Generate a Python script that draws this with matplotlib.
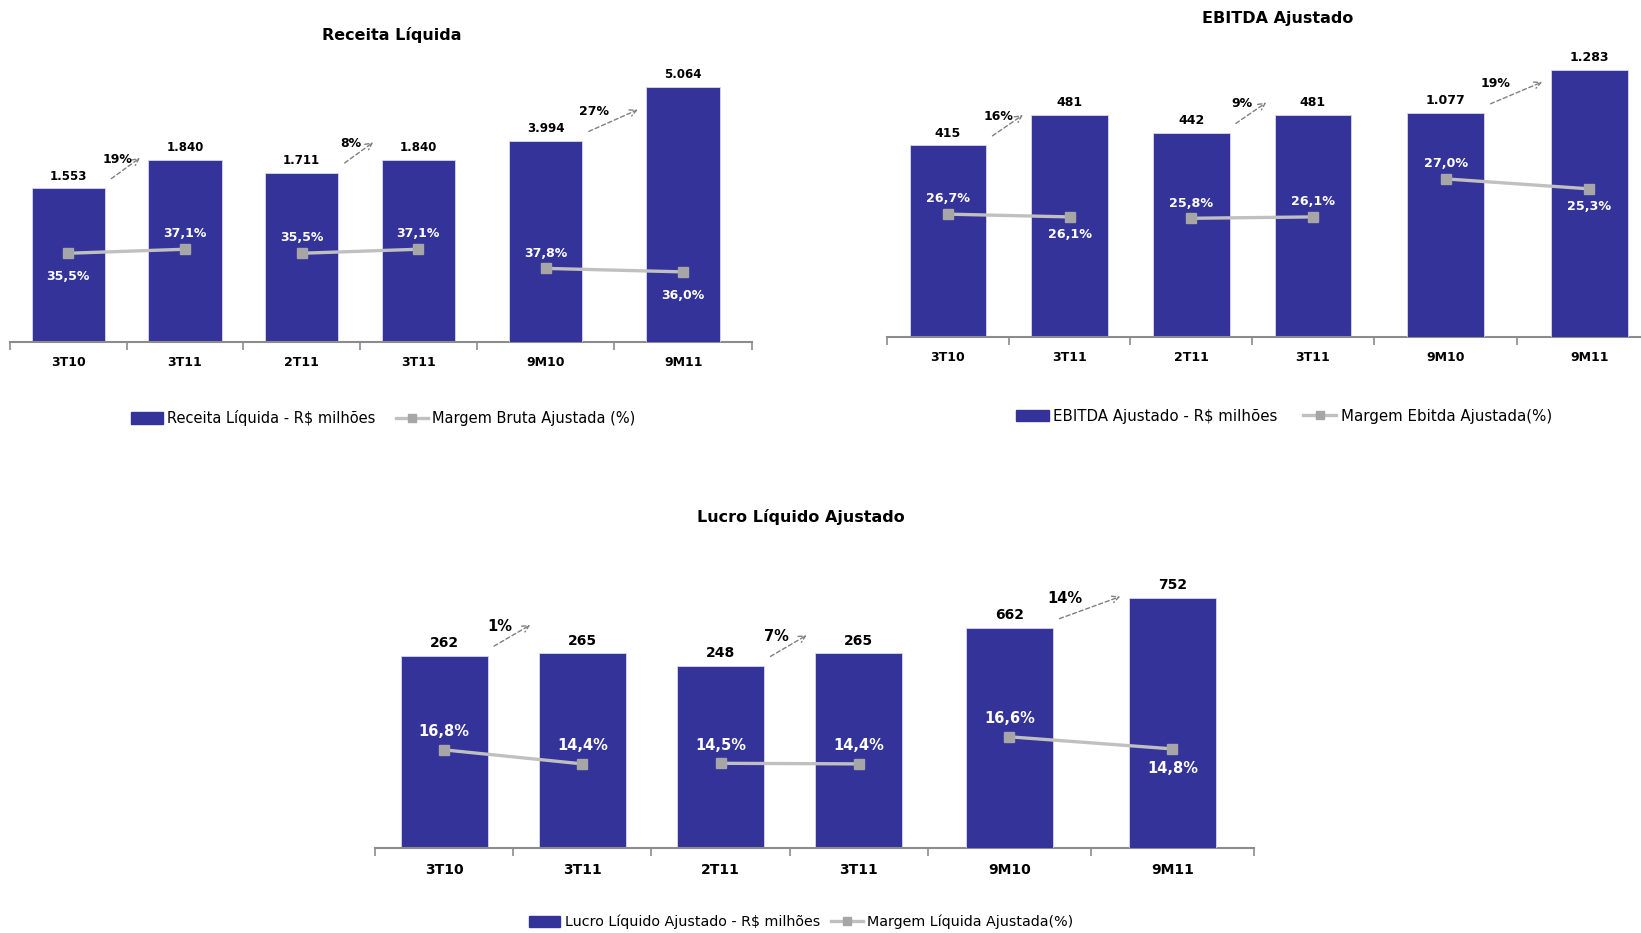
import numpy as np
import matplotlib.pyplot as plt

# categorias e valores
cats = ['3T10', '3T11', '2T11', '3T11', '9M10', '9M11']

receita = [1553, 1840, 1711, 1840, 3994, 5064]
margem_bruta = [35.5, 37.1, 35.5, 37.1, 37.8, 36.0]
cresc_receita = ['19%', '8%', '27%']

ebitda = [415, 481, 442, 481, 1077, 1283]
margem_ebitda = [26.7, 26.1, 25.8, 26.1, 27.0, 25.3]
cresc_ebitda = ['16%', '9%', '19%']

lucro = [262, 265, 248, 265, 662, 752]
margem_liquida = [16.8, 14.4, 14.5, 14.4, 16.6, 14.8]
cresc_lucro = ['1%', '7%', '14%']

W, H = 1641, 933
BLUE = '#333399'
LGREY = '#c0c0c0'
MGREY = '#a6a6a6'

plt.rcParams['font.family'] = ['DejaVu Sans']
fig = plt.figure(figsize=(W / 100, H / 100), dpi=100)


def fmt(v):
    return f'{v:,}'.replace(',', '.')


def pct(v):
    return f'{v:.1f}%'.replace('.', ',')


def painel(box, vals, margens, cresc, lados, ylims, titulo, tpos, leg, lpos, fs):
    l, t, r, b = box
    ax = fig.add_axes([l / W, 1 - b / H, (r - l) / W, (b - t) / H])
    g = 1.18
    pos = [0.5, 1.5, 2.5, 3.5, 4 + g / 2, 4 + 1.5 * g]
    bounds = [0, 1, 2, 3, 4, 4 + g, 4 + 2 * g]
    w = 0.63
    ax_b = ax.twinx()
    ax_l = ax.twinx()
    ax_l2 = ax.twinx()
    axs = [ax, ax_b, ax_l, ax_l2]
    for a, yl in zip(axs, ylims):
        a.set_ylim(0, yl)
        a.set_xlim(0, 4 + 2 * g)
        a.set_yticks([])
        for s in a.spines.values():
            s.set_visible(False)
    ax.spines['bottom'].set_visible(True)
    ax.spines['bottom'].set_color('#8c8c8c')
    ax.spines['bottom'].set_linewidth(1.5)
    ax.set_xticks(bounds)
    ax.set_xticklabels([])
    ax.tick_params(axis='x', which='major', length=6, width=1.2, color='#8c8c8c')
    ax.set_xticks(pos, minor=True)
    ax.set_xticklabels(cats, minor=True, fontsize=fs['tick'], fontweight='bold')
    ax.tick_params(axis='x', which='minor', length=0, pad=fs['pad'])

    bar_ax = [ax, ax, ax, ax, ax_b, ax_b]
    line_ax = [ax_l, ax_l, ax_l, ax_l, ax_l2, ax_l2]

    for i in range(6):
        a = bar_ax[i]
        a.bar(pos[i], vals[i], w, color=BLUE, edgecolor='#d8d8ee', linewidth=0.6, zorder=2)
        a.annotate(fmt(vals[i]), (pos[i], vals[i]), xytext=(0, 4), textcoords='offset points',
                   ha='center', va='bottom', fontsize=fs['val'], fontweight='bold')

    for i0 in (0, 2, 4):
        a = line_ax[i0]
        a.plot(pos[i0:i0 + 2], margens[i0:i0 + 2], color=LGREY, lw=2.4, marker='s',
               ms=6.5, mfc=MGREY, mec=MGREY, zorder=3)

    for i in range(6):
        a = line_ax[i]
        dy = fs['up'] if lados[i] == 'a' else -fs['down']
        a.annotate(pct(margens[i]), (pos[i], margens[i]), xytext=(0, dy), textcoords='offset points',
                   ha='center', va='center', color='white', fontsize=fs['pct'], fontweight='bold')

    # setas de crescimento
    for k, i0 in enumerate((0, 2, 4)):
        a = bar_ax[i0]
        p1 = a.transData.transform((pos[i0] + w / 2, vals[i0]))
        p2 = a.transData.transform((pos[i0 + 1] - w / 2, vals[i0 + 1]))
        sx, sy = p1[0] + 4, p1[1] + 8
        ex, ey = p2[0] - 6, sy + 24
        fig.add_artist(plt.matplotlib.patches.FancyArrowPatch(
            (sx, sy), (ex, ey), transform=None, arrowstyle='->', mutation_scale=12,
            color='#808080', lw=1.0, linestyle=(0, (3, 2))))
        fig.text((sx + 8) / W, (sy + 21) / H, cresc[k], ha='center', va='center',
                 fontsize=fs['cresc'], fontweight='bold')

    fig.text(tpos[0] / W, 1 - tpos[1] / H, titulo, ha='center', va='center',
             fontsize=fs['title'], fontweight='bold')

    hb = plt.Rectangle((0, 0), 1, 1, color=BLUE)
    hl = plt.Line2D([], [], color=LGREY, lw=2.4, marker='s', ms=6, mfc=MGREY, mec=MGREY)
    fig.legend([hb, hl], leg, loc='center', bbox_to_anchor=(lpos[0] / W, 1 - lpos[1] / H),
               ncol=2, frameon=False, fontsize=fs['leg'], handlelength=2.2, handleheight=0.8,
               handletextpad=0.3, columnspacing=fs['cs'])


fs1 = dict(tick=9, pad=10, val=8.5, pct=9, cresc=9, title=11.5, leg=10.5, cs=1.4, up=11, down=17)
painel((10, 60, 752, 342), receita, margem_bruta, cresc_receita,
       ['b', 'a', 'a', 'a', 'a', 'b'], (2848, 5590, 112.8, 144.8),
       'Receita Líquida', (392, 35), ['Receita Líquida - R$ milhões', 'Margem Bruta Ajustada (%)'],
       (383, 418), fs1)

fs2 = dict(tick=9, pad=10, val=9, pct=9.2, cresc=9, title=11.5, leg=10.8, cs=1.7, up=11, down=13)
painel((887, 60, 1661, 337), ebitda, margem_ebitda, cresc_ebitda,
       ['a', 'b', 'a', 'a', 'a', 'b'], (600, 1331, 60.2, 47.3),
       'EBITDA Ajustado', (1278, 19), ['EBITDA Ajustado - R$ milhões', 'Margem Ebitda Ajustada(%)'],
       (1284, 416), fs2)

fs3 = dict(tick=10, pad=11, val=10, pct=10.5, cresc=10.5, title=11.5, leg=10.3, cs=0.8, up=13, down=14)
painel((375, 560, 1254, 848), lucro, margem_liquida, cresc_lucro,
       ['a', 'a', 'a', 'a', 'a', 'b'], (392, 865, 49.3, 43.0),
       'Lucro Líquido Ajustado', (801, 517), ['Lucro Líquido Ajustado - R$ milhões', 'Margem Líquida Ajustada(%)'],
       (801, 922), fs3)

fig.savefig('out.png', dpi=100)
